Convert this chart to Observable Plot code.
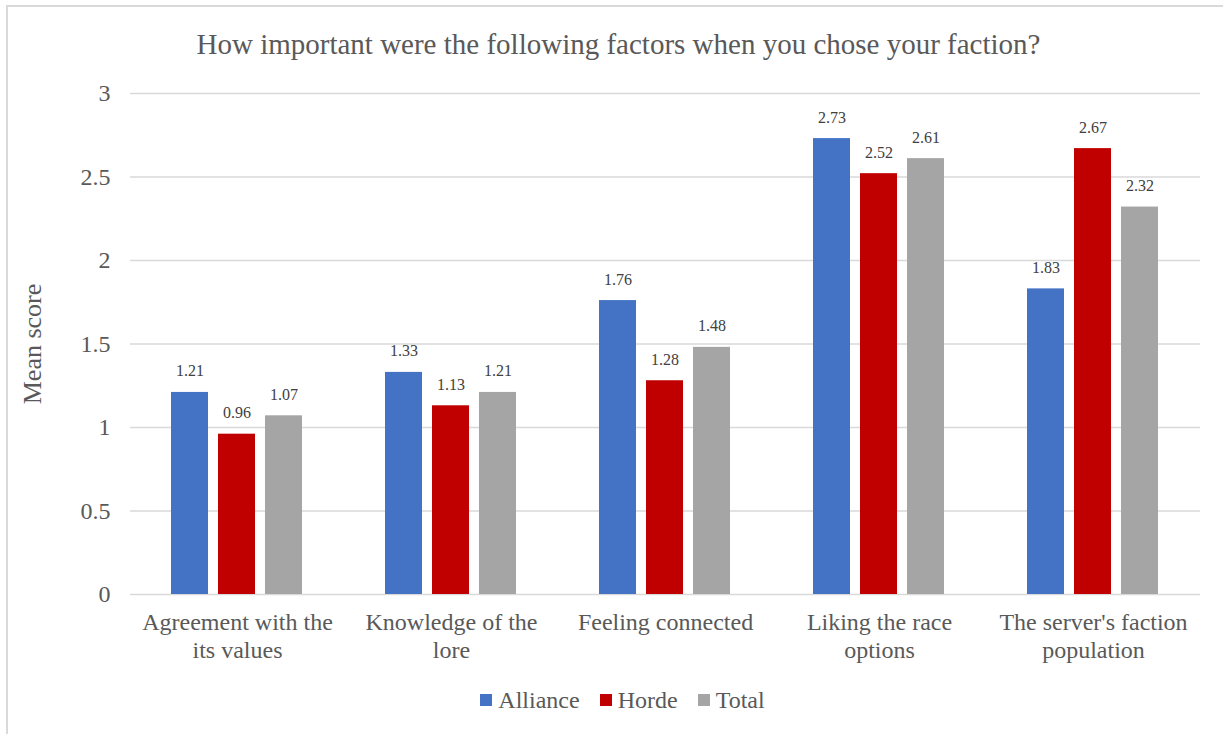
<!DOCTYPE html>
<html>
<head>
<meta charset="utf-8">
<script src="https://cdn.jsdelivr.net/npm/d3@7"></script>
<script src="https://cdn.jsdelivr.net/npm/@observablehq/plot@0.6"></script>
<style>
  body { margin: 0; background: #fff; font-family: 'Liberation Serif', 'Times New Roman', serif; }
  #frame { position: absolute; left: 6px; top: 5px; width: 1300px; height: 800px;
           border-top: 2px solid #d9d9d9; border-left: 2px solid #d9d9d9; }
  #wrap { position: absolute; left: 0; top: 0; width: 1223px; }
  #title { height: 70px; line-height: 88px; text-align: center; font-size: 29px; color: #595959; padding-left: 14px;
           font-family: 'Liberation Serif', serif; }
  #legend { display: flex; justify-content: center; align-items: center; height: 60px; font-size: 24px; color: #595959; padding-left: 22px;
            font-family: 'Liberation Serif', serif; }
  .item { display: flex; align-items: center; margin: 0 10px; }
  .sw { width: 12px; height: 12px; margin-right: 6px; }
  .lbl { font-family: 'Liberation Serif', serif; font-size: 24px; color: #595959; }
  svg text { font-family: 'Liberation Serif', serif; }
</style>
</head>
<body>
<div id="frame"></div>
<div id="wrap">
  <div id="title">How important were the following factors when you chose your faction?</div>
  <div id="chart"></div>
  <div id="legend"></div>
</div>
<script>
const categories = [
  "Agreement with the its values",
  "Knowledge of the lore",
  "Feeling connected",
  "Liking the race options",
  "The server's faction population"
];
const categoryLabels = [
  "Agreement with the\nits values",
  "Knowledge of the\nlore",
  "Feeling connected",
  "Liking the race\noptions",
  "The server's faction\npopulation"
];
const seriesNames = ["Alliance", "Horde", "Total"];
const seriesColors = ["#4472C4", "#C00000", "#A5A5A5"];
const alliance = [1.21, 1.33, 1.76, 2.73, 1.83];
const horde = [0.96, 1.13, 1.28, 2.52, 2.67];
const total = [1.07, 1.21, 1.48, 2.61, 2.32];
const yTicks = [0, 0.5, 1, 1.5, 2, 2.5, 3];

const seriesValues = [alliance, horde, total];
const data = [];
categories.forEach((c, i) => {
  seriesNames.forEach((s, j) => data.push({category: c, series: s, value: seriesValues[j][i]}));
});
const labelOf = new Map(categories.map((c, i) => [c, categoryLabels[i]]));

const chart = Plot.plot({
  width: 1223,
  height: 600,
  marginTop: 23,
  marginBottom: 76,
  marginLeft: 130,
  marginRight: 23,
  style: {fontFamily: "'Liberation Serif', serif", color: "#595959", background: "transparent"},
  fx: {domain: categories, padding: 0},
  x: {domain: seriesNames, paddingInner: 0.21, paddingOuter: 0.88, axis: null},
  y: {domain: [0, 3]},
  color: {domain: seriesNames, range: seriesColors},
  marks: [
    Plot.gridY(yTicks, {stroke: "#d9d9d9", strokeOpacity: 1, strokeWidth: 1.5}),
    Plot.barY(data, {fx: "category", x: "series", y: "value", fill: "series"}),
    Plot.text(data, {fx: "category", x: "series", y: "value", text: d => d.value.toFixed(2),
      dy: -16, lineAnchor: "bottom", fontSize: 16, fill: "#404040", fontFamily: "Liberation Serif"}),
    Plot.axisY(yTicks, {tickSize: 0, tickPadding: 20, fontSize: 24, tickFormat: d => String(d), label: null}),
    Plot.axisY([], {tickSize: 0, fontSize: 26, label: "Mean score", labelAnchor: "center",
      labelArrow: "none", labelOffset: 108}),
    Plot.axisFx({anchor: "bottom", tickSize: 0, tickPadding: 16, fontSize: 24, lineHeight: 1.15,
      label: null, tickFormat: d => labelOf.get(d)})
  ]
});
document.getElementById("chart").appendChild(chart);

const legend = document.getElementById("legend");
seriesNames.forEach((s, i) => {
  const it = document.createElement("div");
  it.className = "item";
  const sw = document.createElement("span");
  sw.className = "sw";
  sw.style.background = seriesColors[i];
  const lbl = document.createElement("span");
  lbl.className = "lbl";
  lbl.style.fontFamily = "'Liberation Serif', serif";
  lbl.textContent = s;
  it.appendChild(sw);
  it.appendChild(lbl);
  legend.appendChild(it);
});
</script>
</body>
</html>
